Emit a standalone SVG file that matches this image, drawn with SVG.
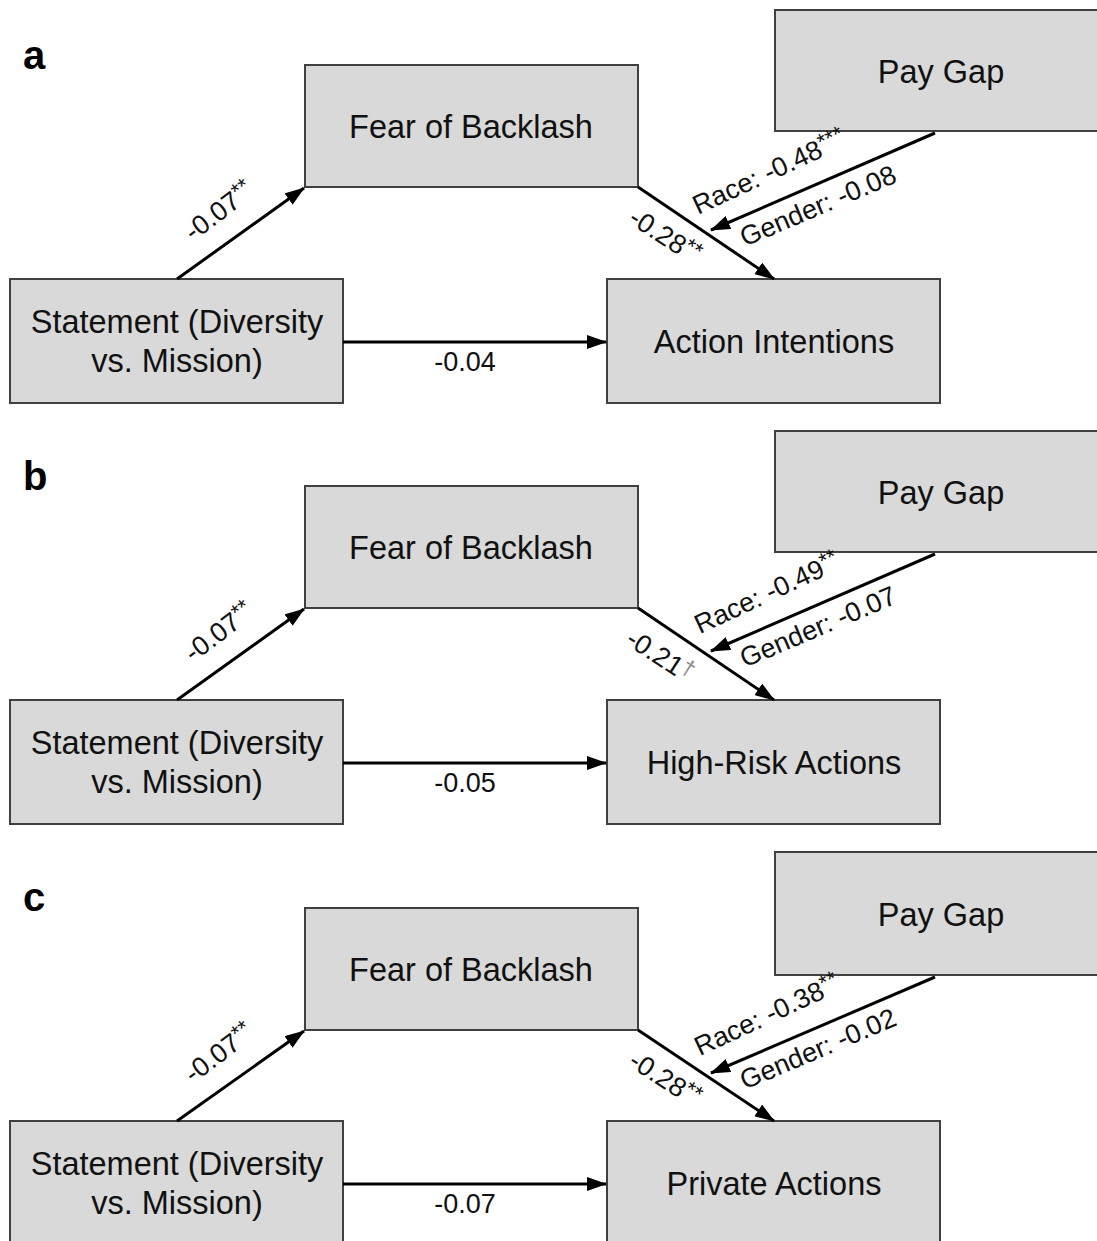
<svg xmlns="http://www.w3.org/2000/svg" width="1097" height="1241" viewBox="0 0 1097 1241">
<defs>
<style>
.box{fill:#d9d9d9;stroke:#404040;stroke-width:2}
.nl{font-family:"Liberation Sans",Arial,sans-serif;font-size:32.5px;fill:#111;text-anchor:middle;dominant-baseline:central}
.el{font-family:"Liberation Sans",Arial,sans-serif;font-size:27px;fill:#111;text-anchor:middle;dominant-baseline:central}
.sup{font-size:22px}
.pl{font-family:"Liberation Sans",Arial,sans-serif;font-size:40px;font-weight:bold;fill:#000}
.ed{stroke:#000;stroke-width:3;fill:none;marker-end:url(#ah)}
</style>
<marker id="ah" viewBox="0 0 20 14" refX="19" refY="7" markerWidth="20" markerHeight="14" markerUnits="userSpaceOnUse" orient="auto">
<path d="M0,0 L20,7 L0,14 z" fill="#000"/>
</marker>
</defs>
<rect width="1097" height="1241" fill="#fff"/>

<!-- Panel a -->
<g id="panel-a">
<text class="pl" x="23" y="69">a</text>
<g id="a-fear"><rect class="box" x="305" y="65" width="333" height="122"/><text class="nl" x="471" y="127">Fear of Backlash</text></g>
<g id="a-paygap"><rect class="box" x="775" y="10" width="340" height="121"/><text class="nl" x="941" y="72">Pay Gap</text></g>
<g id="a-statement"><rect class="box" x="10" y="279" width="333" height="124"/><text class="nl" x="177" y="322">Statement (Diversity</text><text class="nl" x="177" y="361">vs. Mission)</text></g>
<g id="a-outcome"><rect class="box" x="607" y="279" width="333" height="124"/><text class="nl" x="774" y="342">Action Intentions</text></g>
<g id="a-connectors">
<line class="ed" x1="177" y1="279" x2="304" y2="188"/>
<line class="ed" x1="638" y1="187" x2="774" y2="279"/>
<line class="ed" x1="343" y1="342" x2="606" y2="342"/>
<line class="ed" x1="935" y1="133" x2="711" y2="230"/>
<text class="el" transform="translate(219,211) rotate(-37)">-0.07<tspan class="sup" dy="-6">**</tspan></text>
<text class="el" transform="translate(665,236) rotate(33)">-0.28<tspan class="sup" dy="-6">**</tspan></text>
<text class="el" x="465" y="362">-0.04</text>
<text class="el" transform="translate(769,172) rotate(-25)">Race: -0.48<tspan class="sup" dy="-6">***</tspan></text>
<text class="el" transform="translate(818,206) rotate(-23)">Gender: -0.08</text>
</g>
</g>

<!-- Panel b -->
<g id="panel-b" transform="translate(0,421)">
<text class="pl" x="23" y="69">b</text>
<g id="b-fear"><rect class="box" x="305" y="65" width="333" height="122"/><text class="nl" x="471" y="127">Fear of Backlash</text></g>
<g id="b-paygap"><rect class="box" x="775" y="10" width="340" height="121"/><text class="nl" x="941" y="72">Pay Gap</text></g>
<g id="b-statement"><rect class="box" x="10" y="279" width="333" height="124"/><text class="nl" x="177" y="322">Statement (Diversity</text><text class="nl" x="177" y="361">vs. Mission)</text></g>
<g id="b-outcome"><rect class="box" x="607" y="279" width="333" height="124"/><text class="nl" x="774" y="342">High-Risk Actions</text></g>
<g id="b-connectors">
<line class="ed" x1="177" y1="279" x2="304" y2="188"/>
<line class="ed" x1="638" y1="187" x2="774" y2="279"/>
<line class="ed" x1="343" y1="342" x2="606" y2="342"/>
<line class="ed" x1="935" y1="133" x2="711" y2="230"/>
<text class="el" transform="translate(219,211) rotate(-37)">-0.07<tspan class="sup" dy="-6">**</tspan></text>
<text class="el" transform="translate(660,235) rotate(33)">-0.21<tspan class="sup" dy="-6" fill="#888">†</tspan></text>
<text class="el" x="465" y="362">-0.05</text>
<text class="el" transform="translate(767,172) rotate(-25)">Race: -0.49<tspan class="sup" dy="-6">**</tspan></text>
<text class="el" transform="translate(818,206) rotate(-23)">Gender: -0.07</text>
</g>
</g>

<!-- Panel c -->
<g id="panel-c" transform="translate(0,842)">
<text class="pl" x="23" y="69">c</text>
<g id="c-fear"><rect class="box" x="305" y="66" width="333" height="122"/><text class="nl" x="471" y="128">Fear of Backlash</text></g>
<g id="c-paygap"><rect class="box" x="775" y="10" width="340" height="123"/><text class="nl" x="941" y="73">Pay Gap</text></g>
<g id="c-statement"><rect class="box" x="10" y="279" width="333" height="124"/><text class="nl" x="177" y="322">Statement (Diversity</text><text class="nl" x="177" y="361">vs. Mission)</text></g>
<g id="c-outcome"><rect class="box" x="607" y="279" width="333" height="124"/><text class="nl" x="774" y="342">Private Actions</text></g>
<g id="c-connectors">
<line class="ed" x1="177" y1="279" x2="304" y2="189"/>
<line class="ed" x1="638" y1="188" x2="774" y2="279"/>
<line class="ed" x1="343" y1="342" x2="606" y2="342"/>
<line class="ed" x1="935" y1="135" x2="711" y2="231"/>
<text class="el" transform="translate(219,211) rotate(-37)">-0.07<tspan class="sup" dy="-6">**</tspan></text>
<text class="el" transform="translate(665,237) rotate(33)">-0.28<tspan class="sup" dy="-6">**</tspan></text>
<text class="el" x="465" y="362">-0.07</text>
<text class="el" transform="translate(767,173) rotate(-25)">Race: -0.38<tspan class="sup" dy="-6">**</tspan></text>
<text class="el" transform="translate(818,207) rotate(-23)">Gender: -0.02</text>
</g>
</g>
</svg>
